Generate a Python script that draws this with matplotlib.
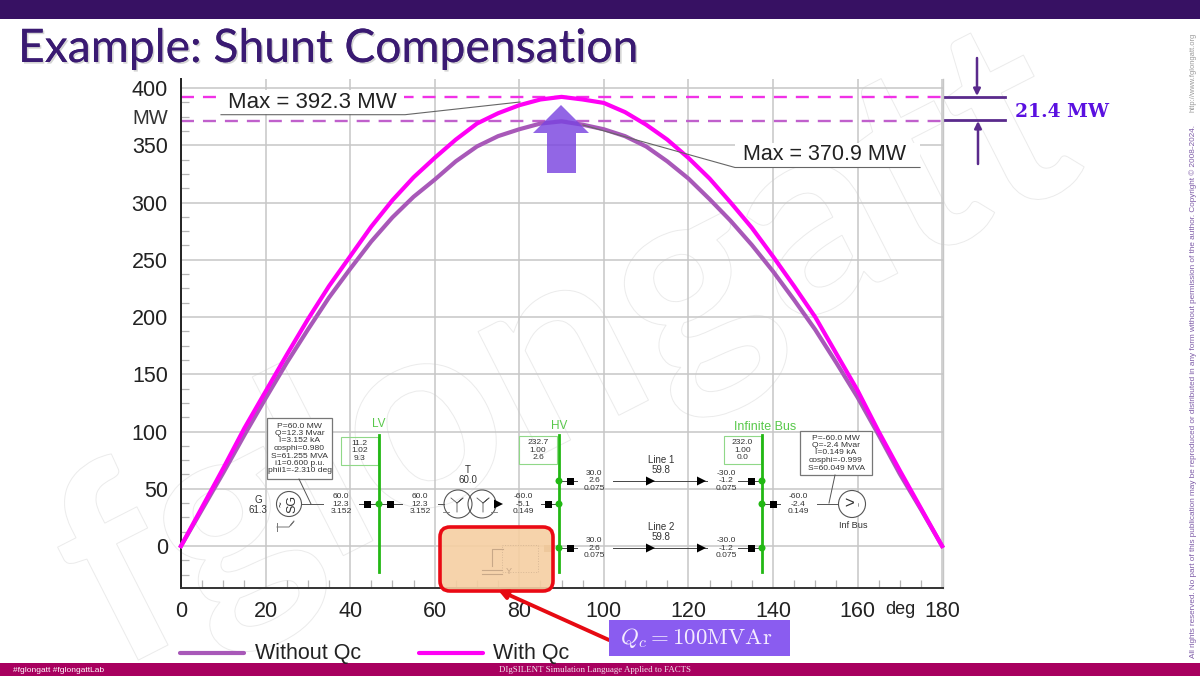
import numpy as np
import matplotlib
matplotlib.use('Agg')
import matplotlib.pyplot as plt
import matplotlib.patheffects as pe
from matplotlib.patches import Rectangle, FancyBboxPatch, Circle, Polygon, PathPatch
from matplotlib.textpath import TextPath
from matplotlib.font_manager import FontProperties
from matplotlib.transforms import Affine2D

plt.rcParams['font.family'] = ['Liberation Sans', 'DejaVu Sans']
plt.rcParams['mathtext.fontset'] = 'cm'

# values
delta = [0, 5, 10, 15, 20, 25, 30, 35, 40, 45, 50, 55, 60, 65, 70, 75, 80, 85, 90,
         95, 100, 105, 110, 115, 120, 125, 130, 135, 140, 145, 150, 155, 160, 165, 170, 175, 180]
without_qc = [0, 32, 64, 97, 129, 160, 189, 217, 242, 266, 287, 305, 320, 336, 349, 358, 364, 369, 370.9,
              368, 364, 358, 349, 336, 321, 303, 284, 263, 240, 215, 189, 160, 130, 97, 63, 32, 0]
with_qc = [0, 34, 68, 103, 135, 167, 198, 227, 253, 279, 302, 322, 339, 355, 369, 378, 385, 390, 392.3,
           390, 387, 379, 368, 355, 339, 321, 300, 278, 253, 227, 200, 168, 136, 100, 66, 33, 0]
max_without = 370.9
max_with = 392.3

x_ticks = [0, 20, 40, 60, 80, 100, 120, 140, 160, 180]
y_ticks = [0, 50, 100, 150, 200, 250, 300, 350, 400]

W, H = 1200, 676
fig = plt.figure(figsize=(12, 6.76), dpi=100, facecolor='white')

# background layer, pixel coordinates
bg = fig.add_axes([0, 0, 1, 1], zorder=0)
bg.set_xlim(0, W)
bg.set_ylim(H, 0)
bg.axis('off')

# watermark
fp = FontProperties(family='Lato', weight='bold')
tp = TextPath((0, 0), 'fglongatt', size=270, prop=fp)
tr = Affine2D().scale(1.0, -1.0).rotate_deg(-27).translate(115, 672)
bg.add_patch(PathPatch(tr.transform_path(tp), fc='none', ec='#ebebeb', lw=0.7))

# main chart
left, right, top, bottom = 181, 942.5, 79, 588.3
ax = fig.add_axes([left / W, 1 - bottom / H, (right - left) / W, (bottom - top) / H], zorder=1)
ax.patch.set_alpha(0)
ax.set_xlim(0, 180.1)
ax.set_ylim(-36.9, 407.9)
ax.set_xticks(x_ticks)
ax.set_yticks(y_ticks)
ax.set_xticks(np.arange(0, 181, 5), minor=True)
ax.set_yticks(np.arange(-25, 405, 12.5), minor=True)
ax.grid(True, which='major', color='#c6c6c6', lw=1.1)
ax.set_axisbelow(True)
ax.tick_params(which='major', length=0, labelsize=15.5, labelcolor='#222222')
ax.tick_params(axis='x', which='major', pad=9.5)
ax.tick_params(axis='y', which='major', pad=9.5)
ax.tick_params(which='minor', direction='in', length=6, color='#b5b5b5', width=0.9)
ax.spines['top'].set_visible(False)
ax.spines['right'].set_color('#c6c6c6')
ax.spines['right'].set_linewidth(1.0)
ax.spines['left'].set_color('#222222')
ax.spines['left'].set_linewidth(1.4)
ax.spines['bottom'].set_color('#333333')
ax.spines['bottom'].set_linewidth(1.4)

ax.axhline(max_with, color='#f032e6', lw=1.7, dashes=(5.5, 3.8), zorder=2)
ax.axhline(max_without, color='#c060cc', lw=1.7, dashes=(5.5, 3.8), zorder=2)
l1, = ax.plot(delta, without_qc, color='#a858b8', lw=3.0, zorder=3, clip_on=False)
l2, = ax.plot(delta, with_qc, color='#ff00f5', lw=3.0, zorder=4, clip_on=False)

# slide layer on top
ov = fig.add_axes([0, 0, 1, 1], zorder=2)
ov.patch.set_alpha(0)
ov.set_xlim(0, W)
ov.set_ylim(H, 0)
ov.axis('off')

ov.add_patch(Rectangle((0, 0), W, 19, fc='#371163', ec='none'))
ov.add_patch(Rectangle((0, 663), W, 13, fc='#a8005f', ec='none'))
ov.text(18, 62, 'Example: Shunt Compensation', family='Lato', fontsize=33.3, color='#3a1a72',
        va='baseline', path_effects=[pe.withSimplePatchShadow(offset=(1.2, -1.2), shadow_rgbFace='#aaaaaa', alpha=0.5), pe.Normal()])
ov.text(13, 670, '#fglongatt #fglongattLab', fontsize=6, color='white', va='center')
ov.text(595, 670, 'DIgSILENT Simulation Language Applied to FACTS', family='Liberation Serif', fontsize=6.4,
        color='#f0e4ec', ha='center', va='center')

# copyright
ov.text(1193, 658, 'All rights reserved. No part of this publication may be reproduced or distributed in any form '
        'without permission of the author. Copyright \u00a9 2008-2024.', fontsize=5.85, color='#7e5ca8',
        rotation=90, ha='center', va='bottom')
ov.text(1193, 112, 'http://www.fglongatt.org', fontsize=5.4, color='#9a9a9a', rotation=90, ha='center', va='bottom')

# y unit and x unit
ov.text(168, 118, 'MW', fontsize=14.5, color='#333333', ha='right', va='center')
ov.text(900, 610, 'deg', fontsize=13, color='#222222', ha='center', va='center')

# max labels
ov.add_patch(Rectangle((221, 90), 183, 24, fc='white', ec='none'))
ov.text(228, 102, 'Max = 392.3 MW', fontsize=16, color='#222222', va='center')
ov.plot([221, 405, 520], [114.7, 114.7, 102], color='#666666', lw=0.8)
ov.add_patch(Rectangle((735, 143), 185, 24, fc='white', ec='none'))
ov.text(743, 154, 'Max = 370.9 MW', fontsize=15.5, color='#222222', va='center')
ov.plot([920, 735, 583], [167.5, 167.5, 125], color='#666666', lw=0.8)

# big arrow
ov.add_patch(Polygon([(561, 105), (589, 133), (576, 133), (576, 173), (547, 173), (547, 133), (533, 133)],
                     closed=True, fc='#7a44e0', ec='none', alpha=0.82))

# 21.4 MW marker
dim = '#5a2a8c'
ov.plot([945, 1005], [97, 97], color=dim, lw=2)
ov.plot([945, 1005], [120, 120], color=dim, lw=2)
ov.annotate('', xy=(977, 96), xytext=(977, 58), arrowprops=dict(arrowstyle='-|>', color=dim, lw=1.8, shrinkA=0, shrinkB=0, mutation_scale=10))
ov.annotate('', xy=(978, 121), xytext=(978, 164), arrowprops=dict(arrowstyle='-|>', color=dim, lw=1.8, shrinkA=0, shrinkB=0, mutation_scale=10))
ov.text(1015, 112, '21.4 MW', family='DejaVu Serif', weight='bold', fontsize=13.5, color='#5a10e0', va='center')

# single line diagram
green = '#22b814'
lite = '#58c84a'
ink = '#333333'


def small(x, y, s, size=6.1, color=ink, **kw):
    ov.text(x, y, s, fontsize=size, color=color, ha='center', va='center', linespacing=1.1, **kw)


def sq(x, y, c='black'):
    ov.add_patch(Rectangle((x - 3.5, y - 3.5), 7, 7, fc=c, ec='none', zorder=6))


def dot(x, y):
    ov.add_patch(Circle((x, y), 3.5, fc=green, ec='none', zorder=6))


def tri(x, y):
    ov.add_patch(Polygon([(x - 4, y - 4.5), (x + 5, y), (x - 4, y + 4.5)], fc='black', ec='none', zorder=6))


for x in [379, 559, 762]:
    ov.plot([x, x], [435, 572], color=green, lw=2)
small(379, 424, 'LV', 8.5, lite)
small(559, 426, 'HV', 8.5, lite)
small(765, 427, 'Infinite Bus', 9, lite)
for x0, x1, y0, y1, s in [(341, 378, 437, 465, '11.2\n1.02\n9.3'),
                          (519, 557, 436, 464, '232.7\n1.00\n2.6'),
                          (724, 761, 436, 464, '232.0\n1.00\n0.0')]:
    ov.add_patch(Rectangle((x0, y0), x1 - x0, y1 - y0, fc='none', ec='#90d888', lw=0.8))
    small((x0 + x1) / 2, (y0 + y1) / 2, s)

# generator
ov.add_patch(Rectangle((267, 418), 65, 61, fc='white', ec='#777777', lw=0.9))
small(299.5, 448.5, 'P=60.0 MW\nQ=12.3 Mvar\nI=3.152 kA\ncosphi=0.980\nS=61.255 MVA\ni1=0.600 p.u.\nphii1=-2.310 deg')
ov.plot([299, 311], [479, 504], color='#555555', lw=0.7)
ov.plot([301, 323], [504, 504], color='#555555', lw=0.7)
ov.add_patch(Circle((289, 504), 12.5, fc='white', ec='#555555', lw=0.8))
small(292, 504, 'SG', 9, rotation=90)
small(282, 504, '~', 7, rotation=90)
small(258, 505, 'G\n61.3', 7)
ov.plot([277, 289, 294, 291], [527, 527, 521, 525], color='#777777', lw=0.7)
ov.plot([277, 277], [523, 531], color='#777777', lw=0.7)

small(341, 504, '60.0\n12.3\n3.152')
ov.plot([359, 402], [504, 504], color='#444444', lw=0.7)
sq(367, 504)
sq(390, 504)
dot(379, 504)
small(420, 504, '60.0\n12.3\n3.152')

# transformer
ov.plot([438, 444], [504, 504], color='#555555', lw=0.7)
for x in [458, 482]:
    ov.add_patch(Circle((x, 504), 14, fc='none', ec='#555555', lw=0.8))
ov.plot([451, 457, 463, 457, 457], [498, 503, 498, 503, 512], color='#555555', lw=0.6)
ov.plot([477, 483, 489, 483, 483], [498, 503, 498, 503, 512], color='#555555', lw=0.6)
ov.plot([443, 449], [512, 512], color='#777777', lw=0.6)
ov.plot([491, 497], [512, 512], color='#777777', lw=0.6)
small(468, 475, 'T\n60.0', 7)
tri(498, 504)
small(523, 504, '-60.0\n-5.1\n0.149')
sq(548, 504)
dot(559, 504)
ov.plot([541, 559], [504, 504], color='#444444', lw=0.7)

# lines
for y, name in [(481, 'Line 1\n59.8'), (548, 'Line 2\n59.8')]:
    dot(559, y)
    dot(762, y)
    sq(570, y)
    sq(751, y)
    ov.plot([559, 577], [y, y], color='#444444', lw=0.7)
    ov.plot([613, 707], [y, y], color='#444444', lw=0.7)
    ov.plot([738, 762], [y, y], color='#444444', lw=0.7)
    tri(650, y)
    tri(701, y)
    small(594, y, '30.0\n2.6\n0.075')
    small(726, y, '-30.0\n-1.2\n0.075')
    small(661, y - 16, name, 7)

# infinite bus
dot(762, 504)
sq(773, 504)
ov.plot([762, 780], [504, 504], color='#444444', lw=0.7)
small(798, 504, '-60.0\n-2.4\n0.149')
ov.plot([817, 838], [504, 504], color='#555555', lw=0.7)
ov.add_patch(Circle((852, 504), 13.5, fc='white', ec='#555555', lw=0.8))
small(849, 504, '>', 12)
small(860, 504, '~', 5, rotation=90)
small(853, 526, 'Inf Bus', 6.6)
ov.add_patch(Rectangle((800, 431), 72, 44, fc='white', ec='#777777', lw=0.9))
small(836, 453, 'P=-60.0 MW\nQ=-2.4 Mvar\nI=0.149 kA\ncosphi=-0.999\nS=60.049 MVA')
ov.plot([835, 829], [475, 503], color='#555555', lw=0.7)

# shunt box and its label
ov.add_patch(FancyBboxPatch((447, 534), 99, 50, boxstyle='round,pad=7,rounding_size=10', fc='#f6cfa2', ec='none', alpha=0.9, zorder=7))
ov.add_patch(FancyBboxPatch((447, 534), 99, 50, boxstyle='round,pad=7,rounding_size=10', fc='none', ec='#ea0a14', lw=2.6, zorder=9))
ov.add_patch(Rectangle((502, 545), 36, 27, fc='none', ec='#d8b896', lw=0.7, ls=':', zorder=8))
sq(547, 548, '#a88e70')
ov.plot([492, 492, 503], [566, 549, 549], color='#c8a888', lw=0.8, zorder=8)
ov.plot([482, 502], [570, 570], color='#c8a888', lw=0.8, zorder=8)
ov.plot([482, 502], [574, 574], color='#c8a888', lw=0.8, zorder=8)
small(509, 571, 'Y', 6.5, '#c8a888', zorder=8)
ov.annotate('', xy=(498, 590), xytext=(609, 640), zorder=10,
            arrowprops=dict(arrowstyle='-|>', color='#e60a12', lw=2.8, shrinkA=0, shrinkB=0, mutation_scale=13))
ov.add_patch(Rectangle((609, 620), 181, 36, fc='#8a5cf0', ec='none', zorder=10))
ov.text(696, 637.5, r'$Q_c = 100\mathrm{MVAr}$', fontsize=16.5, color='#f4ecff', ha='center', va='center', zorder=11)

# legend
ov.plot([180, 244], [653, 653], color='#a858b8', lw=3.0, solid_capstyle='round')
ov.text(255, 653, 'Without Qc', fontsize=15.5, color='#222222', va='center')
ov.plot([419, 483], [653, 653], color='#ff00f5', lw=3.0, solid_capstyle='round')
ov.text(493, 653, 'With Qc', fontsize=15.5, color='#222222', va='center')

fig.savefig('out.png', dpi=100)
